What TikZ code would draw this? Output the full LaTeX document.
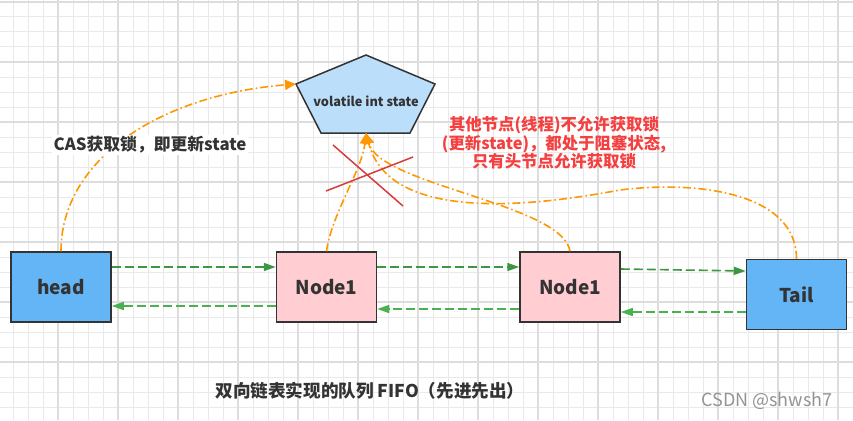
\documentclass[tikz,border=0pt]{standalone}
\usepackage{fontspec}
\setmainfont{Noto Sans CJK SC}
\usepackage{xcolor}
\usetikzlibrary{positioning, arrows.meta, calc}

\definecolor{boxblue}{HTML}{64B5F6}
\definecolor{boxpink}{HTML}{FFCDD2}
\definecolor{stateblue}{HTML}{BBDEFB}
\definecolor{edgegray}{HTML}{333333}
\definecolor{fwdgreen}{HTML}{3D9642}
\definecolor{backgreen}{HTML}{4CAF50}
\definecolor{lockorange}{HTML}{FF9800}
\definecolor{crossred}{HTML}{D63C3C}
\definecolor{notered}{HTML}{F44040}
\definecolor{gridminor}{HTML}{E9E9E9}
\definecolor{gridmajor}{HTML}{DDDDDD}

\begin{document}
\begin{tikzpicture}[x=1pt, y=-1pt, node distance=125pt,
  every node/.style={text=edgegray},
  listnode/.style={rectangle, draw=edgegray, line width=1.5pt, minimum width=100pt, minimum height=70pt, font=\bfseries\fontsize{19}{22}\selectfont},
  fwdlink/.style={draw=fwdgreen, line width=1.6pt, dash pattern=on 9pt off 4pt, -{Triangle[length=12pt,width=8pt]}},
  backlink/.style={draw=backgreen, line width=1.6pt, dash pattern=on 9pt off 4pt, -{Triangle[length=12pt,width=8pt]}},
  lockpath/.style={draw=lockorange, line width=1.6pt, dash pattern=on 8pt off 3pt on 1.6pt off 3pt, -{Triangle[length=11pt,width=10pt]}},
  crossline/.style={draw=crossred, line width=1.5pt}]

\useasboundingbox (0,0) rectangle (853,420);
\fill[white] (0,0) rectangle (853,420);

% background grid
\foreach \gx in {13,28,...,853} \draw[gridminor, line width=1pt] (\gx,0) -- (\gx,420);
\foreach \gy in {2,17,...,420} \draw[gridminor, line width=1pt] (0,\gy) -- (853,\gy);
\foreach \gx in {58,118,...,853} \draw[gridmajor, line width=1.1pt] (\gx,0) -- (\gx,420);
\foreach \gy in {2,62,...,420} \draw[gridmajor, line width=1.1pt] (0,\gy) -- (853,\gy);

% shared state
\coordinate (pTop) at (366,55);
\coordinate (pRight) at (435,84);
\coordinate (pBotR) at (410,133);
\coordinate (pBotL) at (321,133);
\coordinate (pLeft) at (296,84);
\coordinate (pBot) at (366,133);
\filldraw[fill=stateblue, draw=edgegray, line width=1.5pt, line join=miter] (pTop) -- (pRight) -- (pBotR) -- (pBotL) -- (pLeft) -- cycle;
\node[font=\bfseries\fontsize{12.8}{14}\selectfont] (state) at (366,101) {volatile int state};

% queue nodes
\node[listnode, fill=boxblue] (head) at (61,287) {head};
\node[listnode, fill=boxpink, right=164pt of head] (n1) {Node1};
\node[listnode, fill=boxpink, right=142pt of n1] (n2) {Node1};
\node[listnode, fill=boxblue, right=125pt of n2, yshift=-7.5pt] (tail) {Tail};

% prev / next links
\draw[fwdlink] ([yshift=20pt]head.east) -- ([yshift=20pt]n1.west);
\draw[backlink] ([yshift=-19pt]n1.west) -- ([yshift=-19pt]head.east);
\draw[fwdlink] ([yshift=20pt]n1.east) -- ([yshift=20pt]n2.west);
\draw[backlink] ([yshift=-22pt]n2.west) -- ([yshift=-22pt]n1.east);
\draw[fwdlink] ([yshift=18pt]n2.east) -- ([yshift=23.5pt]tail.west);
\draw[backlink] ([yshift=-17.5pt]tail.west) -- ([yshift=-25pt]n2.east);

% lock attempts
\coordinate (bend) at (620,190);
\draw[lockpath] (head.north) .. controls +(0,-92) and +(-136,11) .. (pLeft);
\draw[lockpath] (n1.north) .. controls +(5,-37) and +(-4,37) .. (pBot);
\draw[lockpath] (n2.north) .. controls +(-7,-47) and +(14,52) .. (pBot);
\draw[lockpath] (tail.north) .. controls +(0,-65) and +(80,-10) .. (bend) .. controls +(-80,15) and +(24,92) .. (pBot);

\node[fill=white, inner sep=1.5pt, font=\bfseries\fontsize{16.8}{19}\selectfont] (caslabel) at (150,145) {CAS获取锁，即更新state};

% blocked
\draw[crossline] (333,145) -- (403,206);
\draw[crossline] (326,191) -- (413,157);
\node[text=notered, align=center, font=\bfseries\fontsize{16.4}{18.5}\selectfont] (blocknote) at (554,143) {其他节点(线程)不允许获取锁\\(更新state)，都处于阻塞状态,\\只有头节点允许获取锁};

\node[font=\bfseries\fontsize{17.6}{20}\selectfont] (caption) at (370,391) {双向链表实现的队列 FIFO（先进先出）};
\node[text=black!42, font=\fontsize{18}{20}\selectfont] (mark) at (767,401) {CSDN @shwsh7};
\end{tikzpicture}
\end{document}
